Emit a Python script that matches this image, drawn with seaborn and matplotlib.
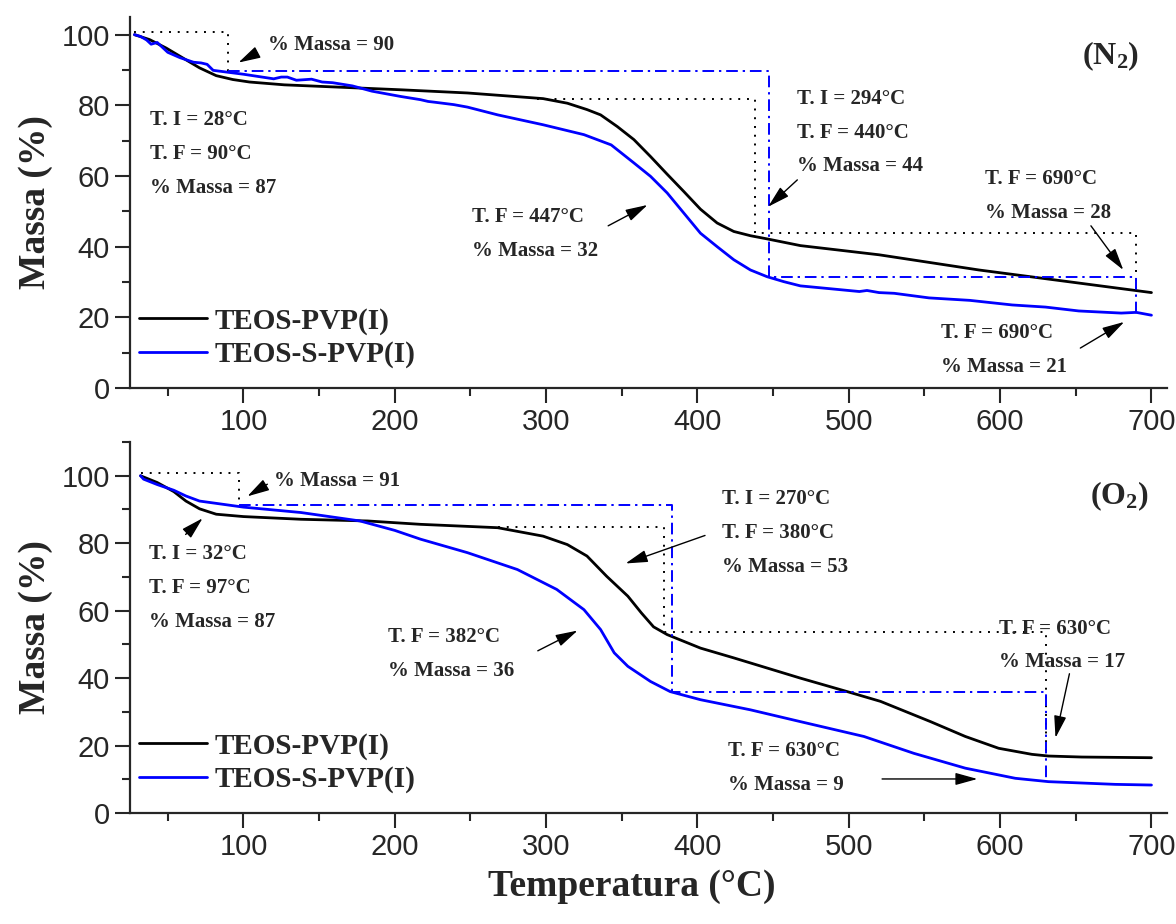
import numpy as np
import pandas as pd
import matplotlib
matplotlib.use("Agg")
import matplotlib.pyplot as plt
from matplotlib.ticker import MultipleLocator
import seaborn as sns

# --- data ---
# N2 atmosphere
n2_pvp_T = [28, 38, 49, 60, 71, 82, 93, 104, 127, 160, 182, 204, 248, 298, 314, 327, 336, 347, 358, 369, 380, 391,
            402, 413, 424, 435, 446, 468, 520, 586, 652, 700]
n2_pvp_m = [100, 98.6, 96.2, 93.4, 90.6, 88.4, 87.3, 86.6, 85.8, 85.2, 84.8, 84.4, 83.5, 81.9, 80.6, 78.8, 77.3, 74, 70.3, 65.5, 60.5, 55.6,
            50.6, 46.7, 44.3, 43.1, 42.2, 40.3, 37.7, 33.4, 29.7, 27]
n2_spvp_T = [28, 32, 36, 39, 43, 50, 58, 67, 72, 76, 80, 100, 120, 125, 129, 135, 145, 152, 159, 172, 185, 204, 217, 222, 226,
             239, 248, 268, 298, 325, 343, 358, 369, 380, 391, 402, 413, 424, 435, 446, 457, 468, 490, 507, 512, 520, 530, 553, 580, 608, 630, 652, 680, 690, 700]
n2_spvp_m = [100, 99.5, 98.5, 97.3, 97.8, 95, 93.5, 92.2, 92.0, 91.6, 89.9, 88.8, 87.5, 88.0, 88.0, 87.1, 87.4, 86.6, 86.4, 85.5, 84.0, 82.5, 81.6, 81.1, 80.9,
             80.2, 79.5, 77.3, 74.5, 71.7, 68.8, 63.7, 59.9, 55.2, 49.5, 43.8, 40, 36.3, 33.4, 31.5, 30.1, 28.9, 28.0, 27.3, 27.6, 27.0, 26.8, 25.5, 24.8, 23.5, 22.9, 21.8, 21.2, 21.4, 20.6]
# O2 atmosphere
o2_pvp_T = [32, 43, 54, 62, 71, 82, 100, 138, 182, 217, 268, 298, 314, 327, 340, 354, 363, 371, 380, 402, 424, 446, 468,
            499, 521, 532, 554, 577, 599, 621, 632, 654, 700]
o2_pvp_m = [100, 98, 95.3, 92.5, 90.2, 88.6, 87.9, 87.1, 86.6, 85.6, 84.6, 82.1, 79.6, 76.2, 70.2, 64.3, 59.3, 55.2, 52.9, 48.9, 46, 43, 40,
            36, 33.1, 31.1, 27.1, 22.7, 19.2, 17.4, 16.9, 16.6, 16.4]
o2_spvp_T = [32, 34, 43, 54, 62, 71, 100, 138, 177, 200, 217, 248, 281, 307, 325, 336, 345, 354, 369, 382, 402, 435, 468,
             510, 543, 577, 610, 632, 676, 700]
o2_spvp_m = [100, 99, 97.4, 95.7, 94.0, 92.5, 90.7, 89.1, 86.6, 83.8, 81.2, 77.2, 72.2, 66.3, 60.3, 54.4, 47.5, 43.5, 39, 36, 33.6, 30.6, 27.1,
             22.7, 17.7, 13.3, 10.3, 9.3, 8.5, 8.3]

# guide lines (step marks for each mass-loss stage)
n2_dot1_T = [28, 90, 90]
n2_dot1_m = [100.8, 100.8, 89.6]
n2_dot2_T = [294, 438, 438, 690, 690]
n2_dot2_m = [81.9, 81.9, 43.9, 43.9, 27.8]
n2_dash_T = [90, 447, 447, 690, 690]
n2_dash_m = [89.7, 89.7, 31.3, 31.3, 20.2]
o2_dot1_T = [32, 97, 97]
o2_dot1_m = [100.7, 100.7, 91.2]
o2_dot2_T = [268, 378, 378, 630, 630]
o2_dot2_m = [84.7, 84.7, 53.8, 53.8, 17]
o2_dash_T = [97, 383, 383, 630, 630]
o2_dash_m = [91.2, 91.2, 36, 36, 9.3]

# annotations: (lines, x, y) and arrows (tail, head)
n2_texts = [(["% Massa = 90"], 116, 97.2),
            (["T. I = 28°C", "T. F = 90°C", "% Massa = 87"], 38.5, 75.9),
            (["T. F = 447°C", "% Massa = 32"], 251, 48.4),
            (["T. I = 294°C", "T. F = 440°C", "% Massa = 44"], 466, 81.9),
            (["T. F = 690°C", "% Massa = 28"], 590, 59.2),
            (["T. F = 690°C", "% Massa = 21"], 561, 15.6)]
n2_arrows = [((109, 94.9), (96.7, 92.1)),
             ((341, 45.9), (367, 51.8)),
             ((466, 58.9), (446.7, 51.3)),
             ((660, 45.9), (681.4, 33.4)),
             ((653, 11.3), (682, 18.7))]
o2_texts = [(["% Massa = 91"], 120.4, 98.4),
            (["T. I = 32°C", "T. F = 97°C", "% Massa = 87"], 37.4, 76.7),
            (["T. I = 270°C", "T. F = 380°C", "% Massa = 53"], 416, 93),
            (["T. F = 382°C", "% Massa = 36"], 195.6, 52.3),
            (["T. F = 630°C", "% Massa = 17"], 599, 54.7),
            (["T. F = 630°C", "% Massa = 9"], 420, 18.4)]
o2_arrows = [((115.8, 97.5), (102.6, 93.9)),
             ((61.8, 82.6), (73, 87.4)),
             ((405, 82.3), (352.5, 74)),
             ((294.5, 48.1), (320.8, 54.1)),
             ((645.8, 41.3), (636.6, 22.3)),
             ((522, 10.1), (585, 10.1))]

labels = ["TEOS-PVP(I)", "TEOS-S-PVP(I)"]

sns.set_style("ticks")
plt.rcParams["font.family"] = ["Liberation Sans", "DejaVu Sans"]
plt.rcParams["mathtext.fontset"] = "custom"
plt.rcParams["mathtext.rm"] = "Liberation Serif:bold"
plt.rcParams["mathtext.it"] = "Liberation Serif:bold"
plt.rcParams["mathtext.bf"] = "Liberation Serif:bold"

serif = dict(family=["Liberation Serif", "DejaVu Serif"], weight="bold")

fig = plt.figure(figsize=(11.76, 9.24), dpi=100)
ax1 = fig.add_axes([0.1105, 0.5801, 0.8815, 0.4015])
ax2 = fig.add_axes([0.1105, 0.1201, 0.8815, 0.4015])


def draw_panel(ax, pvp_T, pvp_m, spvp_T, spvp_m, dots, dash, texts, arrows, tag, tag_xy, ytop):
    df_a = pd.DataFrame({"T": pvp_T, "m": pvp_m})
    df_b = pd.DataFrame({"T": spvp_T, "m": spvp_m})
    sns.lineplot(data=df_a, x="T", y="m", ax=ax, color="black", lw=2.0, label=labels[0])
    sns.lineplot(data=df_b, x="T", y="m", ax=ax, color="#0000ff", lw=2.0, label=labels[1])
    for tt, mm in dots:
        ax.plot(tt, mm, color="black", lw=1.4, ls=(0, (1, 3.5)))
    ax.plot(dash[0], dash[1], color="#0000ff", lw=1.4, ls=(0, (6, 2.5, 1.2, 2.5)))
    for lines, x, y in texts:
        for i, s in enumerate(lines):
            ax.text(x, y - i * 9.6 * (ytop / 105), s, fontsize=15, ha="left", va="center", **serif)
    for tail, head in arrows:
        ax.annotate("", xy=head, xytext=tail,
                    arrowprops=dict(arrowstyle="-|>,head_length=0.9,head_width=0.25",
                                    color="black", lw=1.0, mutation_scale=15,
                                    shrinkA=0, shrinkB=0))
    ax.text(tag_xy[0], tag_xy[1], tag, fontsize=23, ha="left", va="center", **serif)

    ax.set_xlim(25, 710)
    ax.set_ylim(0, ytop)
    ax.xaxis.set_major_locator(MultipleLocator(100))
    ax.xaxis.set_minor_locator(MultipleLocator(50))
    ax.yaxis.set_major_locator(MultipleLocator(20))
    ax.yaxis.set_minor_locator(MultipleLocator(10))
    ax.tick_params(which="major", direction="out", length=10.5, width=1.5, labelsize=21, pad=4)
    ax.tick_params(which="minor", direction="out", length=6, width=1.5)
    for side in ["left", "bottom"]:
        ax.spines[side].set_linewidth(1.6)
    sns.despine(ax=ax)
    ax.set_xlabel("")
    ax.set_ylabel("Massa (%)", fontsize=27, labelpad=6, **serif)
    ax.legend(loc="lower left", bbox_to_anchor=(0.0, 0.03), frameon=False,
              prop=dict(family=["Liberation Serif"], weight="bold", size=21),
              handlelength=2.35, handletextpad=0.25, labelspacing=0.2,
              borderpad=0.1, borderaxespad=0.2)


draw_panel(ax1, n2_pvp_T, n2_pvp_m, n2_spvp_T, n2_spvp_m,
           [(n2_dot1_T, n2_dot1_m), (n2_dot2_T, n2_dot2_m)], (n2_dash_T, n2_dash_m),
           n2_texts, n2_arrows, "(N$_2$)", (654, 93.8), 105)
draw_panel(ax2, o2_pvp_T, o2_pvp_m, o2_spvp_T, o2_spvp_m,
           [(o2_dot1_T, o2_dot1_m), (o2_dot2_T, o2_dot2_m)], (o2_dash_T, o2_dash_m),
           o2_texts, o2_arrows, "(O$_2$)", (659.7, 93.9), 110)

fig.text(0.537, 0.041, "Temperatura (°C)", fontsize=27, ha="center", va="center", **serif)

fig.savefig("out.png", dpi=100)
